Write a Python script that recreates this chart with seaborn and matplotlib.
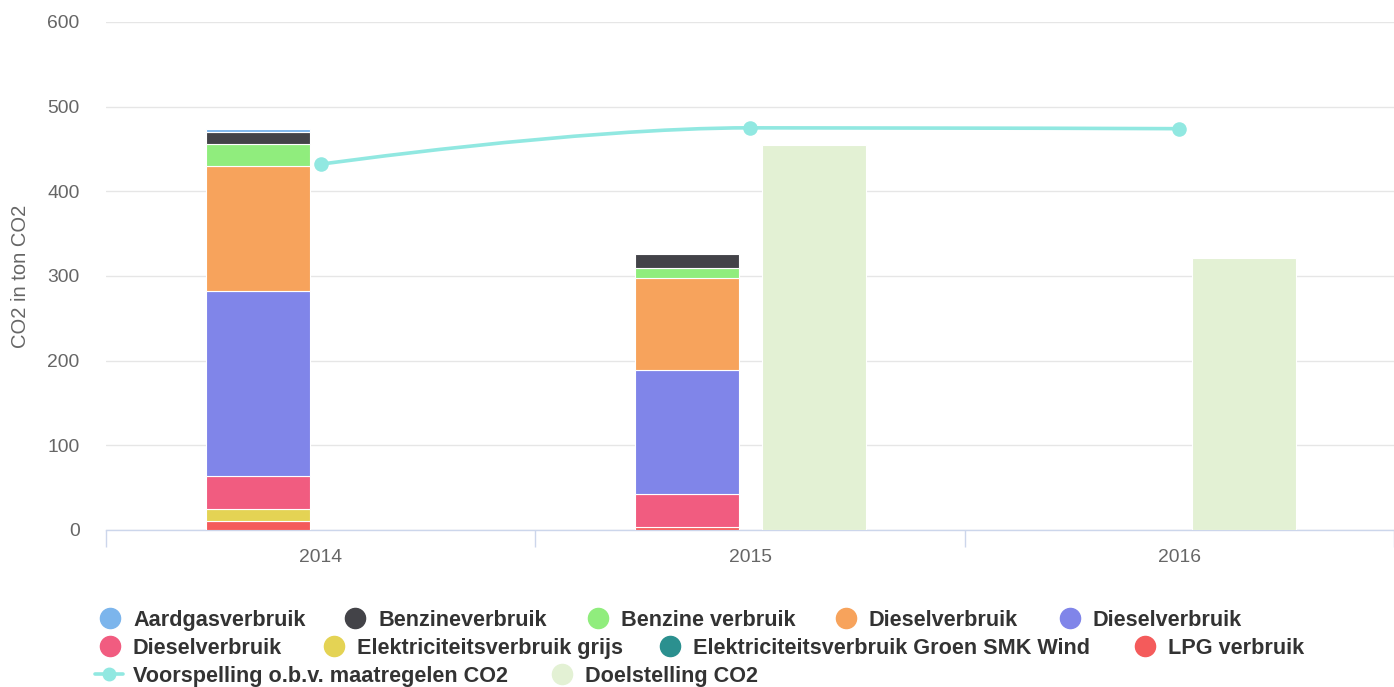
import numpy as np
import pandas as pd
import matplotlib.pyplot as plt
import seaborn as sns
from matplotlib.path import Path
from matplotlib.patches import PathPatch
from matplotlib.lines import Line2D

# ---- data ----
years = ["2014", "2015", "2016"]

# stacked series, listed in legend order (first one ends on top of the stack)
series_names = [
    "Aardgasverbruik", "Benzineverbruik", "Benzine verbruik", "Dieselverbruik",
    "Dieselverbruik", "Dieselverbruik", "Elektriciteitsverbruik grijs",
    "Elektriciteitsverbruik Groen SMK Wind", "LPG verbruik",
]
series_colors = ["#7cb5ec", "#434348", "#90ed7d", "#f7a35c", "#8085e9",
                 "#f15c80", "#e4d354", "#2b908f", "#f45b5b"]
aardgas = [3, 0, 0]
benzine = [15, 16, 0]
benzine_verbruik = [26, 12, 0]
diesel_oranje = [147, 109, 0]
diesel_blauw = [219, 147, 0]
diesel_roze = [39, 38.5, 0]
elek_grijs = [14, 0, 0]
elek_groen = [0, 0, 0]
lpg = [10.5, 3.5, 0]
stack_values = [aardgas, benzine, benzine_verbruik, diesel_oranje, diesel_blauw,
                diesel_roze, elek_grijs, elek_groen, lpg]

voorspelling = [432, 475, 474]
doelstelling = [0, 455, 321]

line_color = "#91e8e1"
doel_color = "#e3f1d4"

# ---- style ----
sns.set_theme(style="white")
plt.rcParams['font.family'] = ['Liberation Sans', 'DejaVu Sans']
text_grey = "#666666"
legend_size = 15.6

fig = plt.figure(figsize=(13.94, 6.87), dpi=100)
ax = fig.add_axes([106 / 1394, 1 - 530 / 687, 1288 / 1394, 508 / 687])

x = np.arange(len(years))
bar_w = 0.242

# stacked bars: bottom series is the last in the list
bottom = np.zeros(len(years))
for name, color, vals in reversed(list(zip(series_names, series_colors, stack_values))):
    vals = np.array(vals, dtype=float)
    mask = vals > 0
    ax.bar(x[mask] - 0.146, vals[mask], bar_w, bottom=bottom[mask], color=color,
           edgecolor="white", linewidth=0.8, zorder=3)
    bottom += vals

# target bars
doel = np.array(doelstelling, dtype=float)
m = doel > 0
ax.bar(x[m] + 0.15, doel[m], bar_w, color=doel_color, edgecolor="white",
       linewidth=0.8, zorder=3)

# forecast line, smoothed like a Highcharts spline
def spline_path(xs, ys, smoothing=1.5):
    n = len(xs)
    verts = [(xs[0], ys[0])]
    codes = [Path.MOVETO]
    ctrl = []
    for i in range(n):
        if i == 0 or i == n - 1:
            ctrl.append(((xs[i], ys[i]), (xs[i], ys[i])))
            continue
        d = smoothing + 1
        lx = (smoothing * xs[i] + xs[i - 1]) / d
        ly = (smoothing * ys[i] + ys[i - 1]) / d
        rx = (smoothing * xs[i] + xs[i + 1]) / d
        ry = (smoothing * ys[i] + ys[i + 1]) / d
        if rx != lx:
            corr = ((ry - ly) * (rx - xs[i])) / (rx - lx) + ys[i] - ry
            ly += corr
            ry += corr
        if ly > max(ys[i - 1], ys[i]):
            ly = max(ys[i - 1], ys[i]); ry = 2 * ys[i] - ly
        elif ly < min(ys[i - 1], ys[i]):
            ly = min(ys[i - 1], ys[i]); ry = 2 * ys[i] - ly
        if ry > max(ys[i + 1], ys[i]):
            ry = max(ys[i + 1], ys[i]); ly = 2 * ys[i] - ry
        elif ry < min(ys[i + 1], ys[i]):
            ry = min(ys[i + 1], ys[i]); ly = 2 * ys[i] - ry
        ctrl.append(((lx, ly), (rx, ry)))
    for i in range(1, n):
        verts += [ctrl[i - 1][1], ctrl[i][0], (xs[i], ys[i])]
        codes += [Path.CURVE4] * 3
    return Path(verts, codes)

ax.add_patch(PathPatch(spline_path(list(x.astype(float)), voorspelling), fill=False,
                       edgecolor=line_color, linewidth=2.6, zorder=4,
                       capstyle="round"))
df_line = pd.DataFrame({"pos": x, "co2": voorspelling})
sns.scatterplot(data=df_line, x="pos", y="co2", ax=ax, color=line_color, s=110,
                linewidth=0, zorder=5)

# ---- axes ----
ax.set_xlim(-0.5, 2.495)
ax.set_ylim(0, 600)
ax.set_yticks(range(0, 601, 100))
ax.yaxis.grid(True, color="#e6e6e6", linewidth=1)
ax.set_axisbelow(True)
for s in ["top", "right", "left"]:
    ax.spines[s].set_visible(False)
ax.spines["bottom"].set_color("#ccd6eb")
ax.spines["bottom"].set_linewidth(1)

ax.set_xticks(x)
ax.set_xticklabels(years)
ax.set_xticks(np.arange(-0.5, 3.0, 1.0), minor=True)
ax.tick_params(axis="x", which="major", length=0, pad=14, labelsize=13.9,
               labelcolor=text_grey)
ax.tick_params(axis="x", which="minor", length=12, width=1, color="#ccd6eb",
               direction="out", bottom=True)
ax.tick_params(axis="y", length=0, pad=19, labelsize=13.9, labelcolor=text_grey)
ax.set_xlabel("")
ax.set_ylabel("")
fig.text(21 / 1394, 1 - 276 / 687, "CO2 in ton CO2", rotation=90, ha="center",
         va="center", fontsize=14.5, color=text_grey)

# ---- legend, laid out in rows like the original ----
legend_rows = [
    (618, [(110, 0), (355, 1), (598, 2), (846, 3), (1070, 4)]),
    (646, [(110, 5), (334, 6), (670, 7), (1145, 8)]),
]
baseline_shift = 7.8  # px from marker centre down to the text baseline

def px(xp, yp):
    return xp / 1394, 1 - yp / 687

for yp, items in legend_rows:
    for xp, idx in items:
        fig.add_artist(Line2D([px(xp, yp)[0]], [px(xp, yp)[1]], marker="o",
                              markersize=14.5, color=series_colors[idx],
                              linestyle="none", transform=fig.transFigure))
        fig.text(*px(xp + 23, yp + baseline_shift), series_names[idx], ha="left",
                 va="baseline", fontsize=legend_size, fontweight="bold",
                 color="#333333")

# third row: line and target
yp = 674
x0, y0 = px(95, yp)
x1, _ = px(123, yp)
fig.add_artist(Line2D([x0, x1], [y0, y0], color=line_color, linewidth=2.6,
                      transform=fig.transFigure))
fig.add_artist(Line2D([px(109, yp)[0]], [y0], marker="o", markersize=9,
                      color=line_color, linestyle="none", transform=fig.transFigure))
fig.text(*px(133, yp + baseline_shift), "Voorspelling o.b.v. maatregelen CO2",
         ha="left", va="baseline", fontsize=legend_size, fontweight="bold",
         color="#333333")
fig.add_artist(Line2D([px(562, yp)[0]], [y0], marker="o", markersize=14.5,
                      color=doel_color, linestyle="none", transform=fig.transFigure))
fig.text(*px(585, yp + baseline_shift), "Doelstelling CO2", ha="left",
         va="baseline", fontsize=legend_size, fontweight="bold", color="#333333")

fig.savefig("out.png", dpi=100)
